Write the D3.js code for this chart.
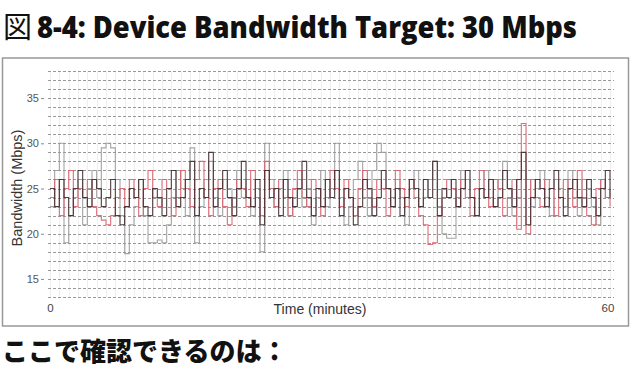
<!DOCTYPE html>
<html><head><meta charset="utf-8">
<script src="https://cdn.jsdelivr.net/npm/d3@7"></script>
<style>body{margin:0;background:#fff;overflow:hidden}svg{display:block}</style>
</head><body><svg id="c" width="636" height="369"></svg>
<script>
const titlePrefix = "図";
const titleText = "8-4: Device Bandwidth Target: 30 Mbps";
const footerText = "ここで確認できるのは：";
const xLabel = "Time (minutes)";
const yLabel = "Bandwidth (Mbps)";
const xTicks = [0, 60];
const yTicks = [15, 20, 25, 30, 35];
const stepMinutes = 0.5;
const seriesNames = ["Device C", "Device A", "Device B"];
const seriesColors = ["#9a9a9a", "#d9606c", "#3e2a2c"];

const deviceC = [23,27,30,19,22,24,26,21,25,27,24,29.5,30,29.5,26,22,17.8,21,23,26,22,19,19,19.3,19,21,24,27,25,22,29.5,19,23,26,28,24,22,26,25,23,27,24,26,22,25,18,30,26,23,25,27,22,24,26,23,25,21,24,27,23,25,30,24,21,23,26,28,24,22,27,30,29,25,23,26,24,21,25,27,23,24,26,28,23,20,19.5,19.5,24,27,26,24,22,25,27,24,23,26,28,25,22,24,27,26,23,25,27,24,22,26,25,23,27,24,22,26,25,23,21,26,24,25];
const deviceA = [24,26,22,25,27,23,25,24,26,23,22,21.5,21,22,24,25,23,26,24,22,25,27,24,23,26,25,22,24,27,25,23,26,28,24,22,25,26,23,21,24,26,25,23,27,24,22,28,25,23,26,24,22,25,27,24,23,26,25,22,24,27,25,23,26,24,22,25,27,24,23,26,25,22,24,27,25,23,26,24,22,21,18.8,19,22,24,26,25,23,26,24,22,25,27,24,23,26,25,22,24,26,20.5,32.2,20,26,24,23,26,25,22,24,26,25,23,27,24,22,21,25,26,24,23];
const deviceB = [25,23,26,24,22,25,27,24,23,26,25,23,24,26,22,21,23,25,24,26,23,22,25,24,22,25,27,23,24,26,28,22,25,24,29,23,25,27,24,22,25,28,24,23,26,21,27,24,25,22,26,24,23,25,28,24,22,25,23,26,24,27,22,25,24,21,23,26,25,22,24,27,25,23,25,22,24,26,25,23,26,24,28,22,25,24,26,23,25,27,24,22,25,24,26,23,24,27,25,23,26,29,21,24,26,25,23,25,27,24,22,25,26,24,23,26,24,22,25,27,24];
const seriesValues = [deviceC, deviceA, deviceB];

const svg = d3.select("#c");

// title
svg.append("text").attr("x", 3).attr("y", 38)
  .attr("font-family", "'Noto Sans CJK JP'").attr("font-size", 29).attr("font-weight", 400)
  .attr("fill", "#111").text(titlePrefix);
svg.append("text").attr("x", 37).attr("y", 38)
  .attr("font-family", "'Open Sans', sans-serif").attr("font-size", 30).attr("font-weight", 800)
  .attr("fill", "#111").attr("textLength", 540).attr("lengthAdjust", "spacingAndGlyphs")
  .text(titleText);

// frame
svg.append("rect").attr("x", 2.5).attr("y", 58).attr("width", 626).attr("height", 268)
  .attr("fill", "#fff").attr("stroke", "#999").attr("stroke-width", 1.5);

const x = d3.scaleLinear().domain([0, 60]).range([50, 610]);
const y = d3.scaleLinear().domain([13, 38]).range([297, 71]);

// faint vertical gridlines
svg.append("g").selectAll("line").data(d3.range(0, 61, 1)).join("line")
  .attr("x1", d => Math.round(x(d)) + 0.5).attr("x2", d => Math.round(x(d)) + 0.5)
  .attr("y1", 71).attr("y2", 297)
  .attr("stroke", "#efefef").attr("stroke-width", 1);

// horizontal gridlines
const gridVals = d3.range(13, 39, 1);
svg.append("g").selectAll("line").data(gridVals).join("line")
  .attr("x1", 48).attr("x2", 614)
  .attr("y1", d => Math.round(y(d)) + 0.5).attr("y2", d => Math.round(y(d)) + 0.5)
  .attr("stroke", "#999").attr("stroke-width", 1).attr("stroke-dasharray", "3,2");

// y axis
const yAxis = d3.axisLeft(y).tickValues(yTicks).tickSize(3).tickPadding(2);
const yg = svg.append("g").attr("transform", "translate(44,0)").call(yAxis);
yg.select(".domain").remove();
yg.selectAll("line").attr("stroke", "#888");
yg.selectAll("text").attr("font-family", "'Liberation Sans', Arial, sans-serif")
  .attr("font-size", 11).attr("fill", "#555");

// x axis labels
const xAxis = d3.axisBottom(x).tickValues(xTicks).tickSize(0).tickPadding(0);
const xg = svg.append("g").attr("transform", "translate(0,304)").call(xAxis);
xg.select(".domain").remove();
xg.selectAll("text").attr("font-family", "'Liberation Sans', Arial, sans-serif")
  .attr("font-size", 11.5).attr("fill", "#444");
xg.selectAll(".tick").filter(d => d === 60).attr("transform", "translate(608,0)");

svg.append("text").attr("x", 320).attr("y", 314).attr("text-anchor", "middle")
  .attr("font-family", "'Liberation Sans', Arial, sans-serif").attr("font-size", 14)
  .attr("fill", "#333").text(xLabel);
svg.append("text").attr("transform", "translate(22,188) rotate(-90)").attr("text-anchor", "middle")
  .attr("font-family", "'Liberation Sans', Arial, sans-serif").attr("font-size", 14.5)
  .attr("fill", "#333").text(yLabel);

// series
const line = d3.line().x((d, i) => x(i * stepMinutes)).y(d => y(d)).curve(d3.curveStepAfter);
svg.append("g").selectAll("path").data(seriesValues).join("path")
  .attr("d", d => line(d))
  .attr("fill", "none")
  .attr("stroke", (d, i) => seriesColors[i])
  .attr("stroke-width", 1.1)
  .attr("stroke-opacity", 0.9);

// footer
svg.append("text").attr("x", 2).attr("y", 361)
  .attr("font-family", "'Noto Sans CJK JP'").attr("font-size", 26).attr("font-weight", 900)
  .attr("fill", "#111").text(footerText);
</script></body></html>
